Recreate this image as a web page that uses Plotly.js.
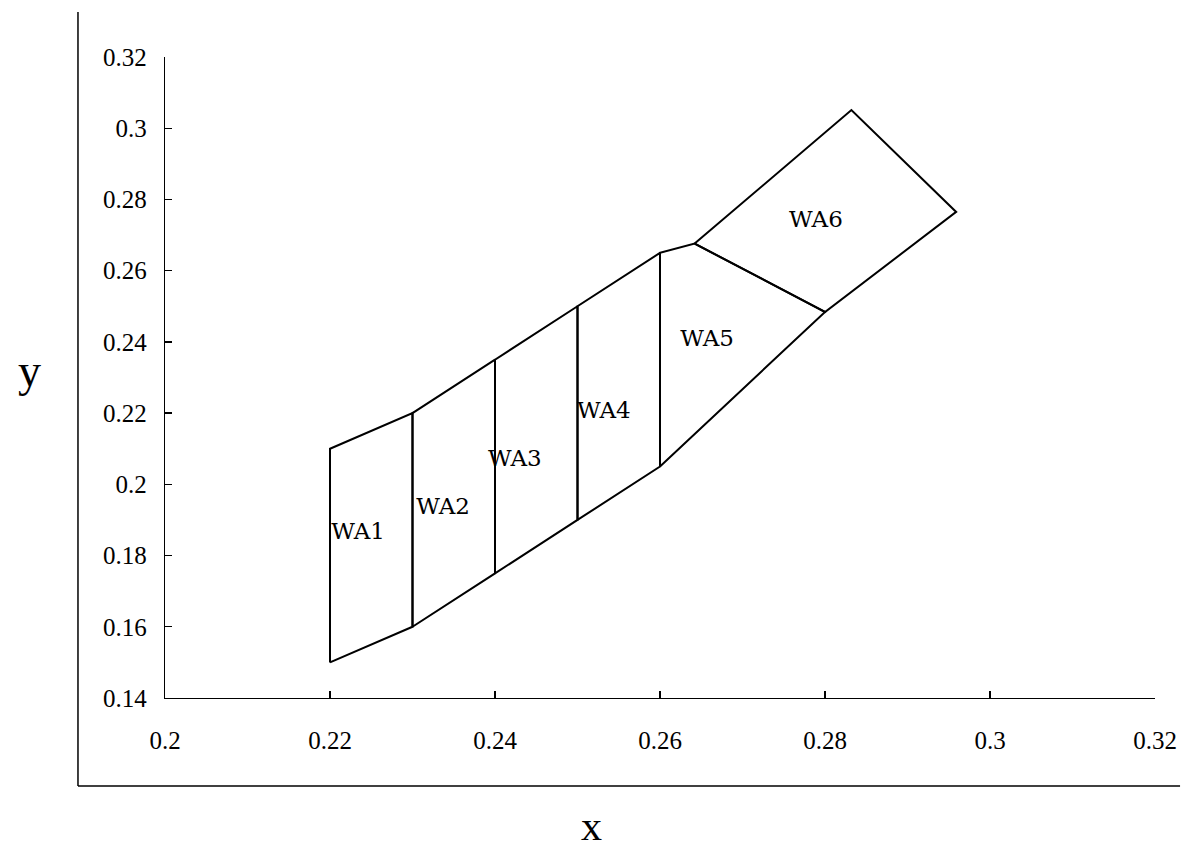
<!DOCTYPE html>
<html>
<head>
<meta charset="utf-8">
<script src="https://cdn.plot.ly/plotly-3.0.1.min.js"></script>
<style>html,body{margin:0;padding:0;background:#fff;}#chart{width:1186px;height:851px;}</style>
</head>
<body>
<div id="chart"></div>
<script>
const regionNames = ["WA1", "WA2", "WA3", "WA4", "WA5", "WA6"];
const wa1X = [0.22, 0.22, 0.23, 0.23, 0.22];
const wa1Y = [0.15, 0.21, 0.22, 0.16, 0.15];
const wa2X = [0.23, 0.23, 0.24, 0.24, 0.23];
const wa2Y = [0.16, 0.22, 0.235, 0.175, 0.16];
const wa3X = [0.24, 0.24, 0.25, 0.25, 0.24];
const wa3Y = [0.175, 0.235, 0.25, 0.19, 0.175];
const wa4X = [0.25, 0.25, 0.26, 0.26, 0.25];
const wa4Y = [0.19, 0.25, 0.265, 0.205, 0.19];
const wa5X = [0.26, 0.26, 0.2642, 0.28, 0.26];
const wa5Y = [0.205, 0.265, 0.2676, 0.2484, 0.205];
const wa6X = [0.2642, 0.2832, 0.2959, 0.28, 0.2642];
const wa6Y = [0.2676, 0.3051, 0.2765, 0.2484, 0.2676];
const labelX = [0.2234, 0.2337, 0.2424, 0.2532, 0.2657, 0.2789];
const labelY = [0.1863, 0.1934, 0.2068, 0.2203, 0.2405, 0.274];
const tickVals = [0.14, 0.16, 0.18, 0.2, 0.22, 0.24, 0.26, 0.28, 0.3, 0.32];
const xTickVals = [0.2, 0.22, 0.24, 0.26, 0.28, 0.3, 0.32];

const polysX = [wa1X, wa2X, wa3X, wa4X, wa5X, wa6X];
const polysY = [wa1Y, wa2Y, wa3Y, wa4Y, wa5Y, wa6Y];

const traces = polysX.map((xs, i) => ({
  type: 'scatter', mode: 'lines', x: xs, y: polysY[i],
  line: {color: '#000', width: 2}, hoverinfo: 'skip', showlegend: false
}));
traces.push({
  type: 'scatter', mode: 'text', x: labelX, y: labelY, text: regionNames,
  textposition: 'middle center',
  textfont: {family: 'DejaVu Serif', size: 23, color: '#000'}, showlegend: false
});

const tickFont = {family: 'Liberation Serif', size: 25, color: '#000'};
const layout = {
  width: 1186, height: 851,
  margin: {l: 165, r: 31, t: 57, b: 153},
  paper_bgcolor: '#fff', plot_bgcolor: '#fff',
  showlegend: false,
  xaxis: {
    range: [0.2, 0.32], tickvals: xTickVals, ticktext: xTickVals.map(String),
    showgrid: false, zeroline: false, showline: true, linecolor: '#000', linewidth: 1.3,
    ticks: 'inside', ticklen: 7, tickwidth: 1.3, tickcolor: '#000',
    tickfont: tickFont, ticklabelstandoff: 20
  },
  yaxis: {
    range: [0.14, 0.32], tickvals: tickVals, ticktext: tickVals.map(String),
    showgrid: false, zeroline: false, showline: true, linecolor: '#000', linewidth: 1.3,
    ticks: 'inside', ticklen: 7, tickwidth: 1.3, tickcolor: '#000',
    tickfont: tickFont, ticklabelstandoff: 12
  },
  shapes: [
    {type: 'line', xref: 'paper', yref: 'paper', x0: -0.0879, x1: -0.0879, y0: 1.0702, y1: -0.1373,
     line: {color: '#000', width: 1.5}},
    {type: 'line', xref: 'paper', yref: 'paper', x0: -0.0879, x1: 1.0253, y0: -0.1373, y1: -0.1373,
     line: {color: '#000', width: 1.5}}
  ],
  annotations: [
    {text: 'y', xref: 'paper', yref: 'paper', x: -0.1364, y: 0.5117, showarrow: false,
     xanchor: 'center', yanchor: 'middle', font: {family: 'Liberation Serif', size: 46, color: '#000'}},
    {text: 'x', xref: 'paper', yref: 'paper', x: 0.4313, y: -0.199, showarrow: false,
     xanchor: 'center', yanchor: 'middle', font: {family: 'Liberation Serif', size: 42, color: '#000'}}
  ]
};
Plotly.newPlot('chart', traces, layout, {displayModeBar: false, staticPlot: true});
</script>
</body>
</html>
